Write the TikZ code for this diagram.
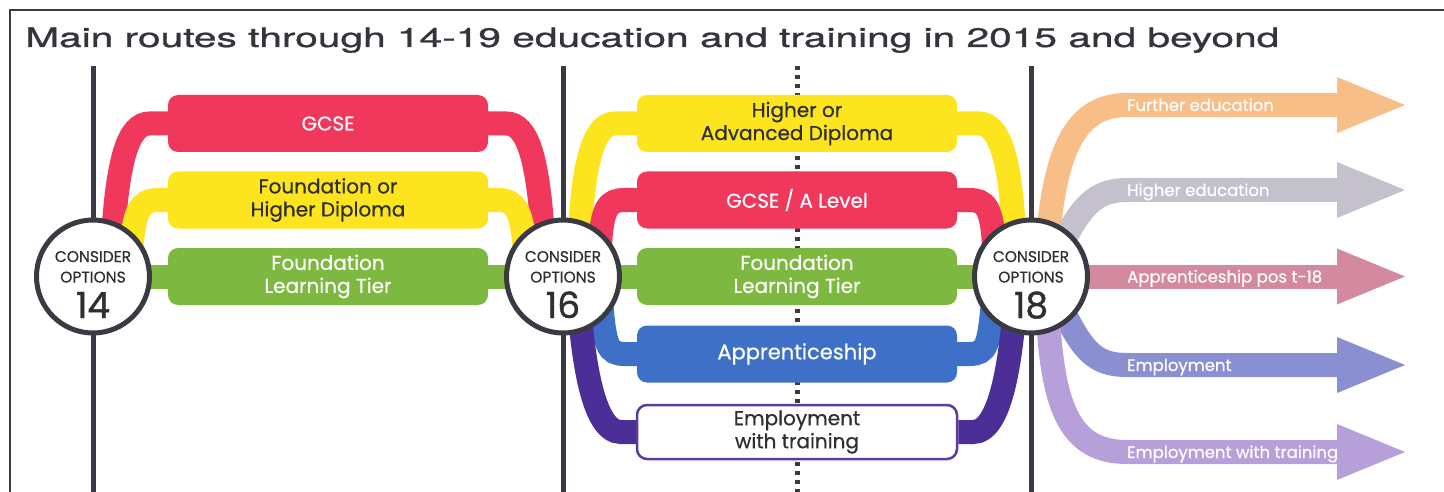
\documentclass[tikz,border=0pt]{standalone}
\usepackage{fontspec}
\usepackage{graphicx}
\setmainfont{Poppins}[FakeBold=0.5]
\newfontfamily\titlefont{TeX Gyre Heros}[FakeBold=0.8]
\newfontfamily\numfont{Poppins}[FakeBold=1.2]
\usetikzlibrary{calc}
\pgfdeclarelayer{lines}
\pgfdeclarelayer{bands}
\pgfsetlayers{lines,bands,main}

\definecolor{rRed}{RGB}{239,56,92}
\definecolor{rYellow}{RGB}{252,229,30}
\definecolor{rGreen}{RGB}{125,185,64}
\definecolor{rBlue}{RGB}{62,112,200}
\definecolor{rIndigo}{RGB}{75,47,151}
\definecolor{boxPurple}{RGB}{90,60,160}
\definecolor{aOrange}{RGB}{248,190,135}
\definecolor{aGrey}{RGB}{196,193,204}
\definecolor{aPink}{RGB}{212,138,158}
\definecolor{aBlue}{RGB}{138,143,210}
\definecolor{aPurple}{RGB}{183,159,218}
\definecolor{lineDark}{RGB}{58,59,66}
\definecolor{txtDark}{RGB}{46,46,51}
\definecolor{titleGray}{RGB}{52,52,58}

\begin{document}
\begin{tikzpicture}[x=1pt,y=-1pt,
  band/.style={line width=24pt},
  routebox/.style={rounded corners=10pt, minimum width=320pt, minimum height=57pt,
    inner sep=0pt, align=center, font=\fontsize{20}{23}\selectfont},
  agecircle/.style={circle, draw=lineDark, line width=5pt, fill=white,
    minimum size=113pt, inner sep=0pt},
  circtext/.style={anchor=base, inner sep=0pt, text=txtDark, font=\fontsize{15.5}{18}\selectfont},
  circnum/.style={anchor=base, inner sep=0pt, text=txtDark, font=\numfont\fontsize{36}{40}\selectfont},
  arrowtext/.style={anchor=base west, inner sep=0pt, text=white, font=\fontsize{16.5}{20}\selectfont},
  vline/.style={draw=lineDark, line width=5pt},
  dotline/.style={draw=lineDark, line width=5pt, dash pattern=on 4pt off 5pt}
]
\useasboundingbox (0,0) rectangle (1444,492);

% frame and title
\coordinate (frBL) at (10,492);
\coordinate (frTL) at (10,10);
\coordinate (frTR) at (1444,10);
\draw[lineDark, line width=2pt] (frBL) -- (frTL) -- (frTR);
\node[anchor=base west, inner sep=0pt, text=titleGray] (title) at (25,47)
  {\resizebox{1254pt}{\height}{\titlefont\fontsize{26.8}{30}\selectfont Main routes through 14-19 education and training in 2015 and beyond}};

% circles
\foreach \nm/\xx/\age in {c14/93/14, c16/563/16, c18/1031/18} {
  \node[agecircle] (\nm) at (\xx,276.5) {};
  \node[circtext] (\nm-a) at ($(\nm)+(0,-14.5)$) {CONSIDER};
  \node[circtext] (\nm-b) at ($(\nm)+(0,6)$) {OPTIONS};
  \node[circnum] (\nm-c) at ($(\nm)+(0,41.5)$) {\age};
}

% vertical lines
\coordinate (t14) at (93,66);   \coordinate (b14) at (93,492);
\coordinate (t16) at (563,66);  \coordinate (b16) at (563,492);
\coordinate (t18) at (1031,66); \coordinate (b18) at (1031,492);
\coordinate (tmid) at (797,66); \coordinate (bmid) at (797,492);
\begin{pgfonlayer}{lines}
  \draw[vline] (t14) -- (b14);
  \draw[vline] (t16) -- (b16);
  \draw[vline] (t18) -- (b18);
  \draw[dotline] (tmid) -- (bmid);
\end{pgfonlayer}

% boxes 14-16
\node[routebox, fill=rRed, text=white] (gcse) at (328,123.5) {GCSE};
\node[routebox, fill=rYellow, text=txtDark] (fhd) at (328,200) {Foundation or\\Higher Diploma};
\node[routebox, fill=rGreen, text=white] (flta) at (328,276.5) {Foundation\\Learning Tier};
% boxes 16-18
\node[routebox, fill=rYellow, text=txtDark] (had) at (797,123.5) {Higher or\\Advanced Diploma};
\node[routebox, fill=rRed, text=white] (gal) at (797,200) {GCSE / A Level};
\node[routebox, fill=rGreen, text=white] (fltb) at (797,276.5) {Foundation\\Learning Tier};
\node[routebox, fill=rBlue, text=white, font=\fontsize{21}{24}\selectfont] (app) at (797,354) {Apprenticeship};
\node[routebox, fill=white, draw=boxPurple, line width=2.5pt, text=txtDark, minimum height=54pt] (ewt) at (797,432) {Employment\\with training};

% arrow head bases
\coordinate (hFE) at (1337,105);
\coordinate (hHE) at (1337,190);
\coordinate (hAP) at (1337,276.5);
\coordinate (hEM) at (1337,365);
\coordinate (hEW) at (1337,452);

\begin{pgfonlayer}{bands}
  % 14 -> 16
  \draw[band, rRed] (gcse.west) -- ++(-18,0) .. controls +(-22,0) and ($(c14)+(25,-116)$) .. ($(c14)+(20,-40)$);
  \draw[band, rRed] (gcse.east) -- ++(18,0) .. controls +(22,0) and ($(c16)+(-25,-116)$) .. ($(c16)+(-20,-40)$);
  \draw[band, rYellow] (fhd.west) -- ++(-10,0) .. controls +(-18,0) and ($(c14)+(41,-65)$) .. ($(c14)+(38,-25)$);
  \draw[band, rYellow] (fhd.east) -- ++(10,0) .. controls +(18,0) and ($(c16)+(-41,-65)$) .. ($(c16)+(-38,-25)$);
  \draw[band, rGreen] (c14.center) -- (c16.center);
  % 16 -> 18
  \draw[band, rYellow] (had.west) -- ++(-22,0) .. controls +(-20,0) and ($(c16)+(20,-117)$) .. ($(c16)+(17,-40)$);
  \draw[band, rYellow] (had.east) -- ++(22,0) .. controls +(20,0) and ($(c18)+(-20,-117)$) .. ($(c18)+(-17,-40)$);
  \draw[band, rRed] (gal.west) -- ++(-12,0) .. controls +(-16,0) and ($(c16)+(39,-70)$) .. ($(c16)+(37,-30)$);
  \draw[band, rRed] (gal.east) -- ++(12,0) .. controls +(16,0) and ($(c18)+(-39,-70)$) .. ($(c18)+(-37,-30)$);
  \draw[band, rGreen] (c16.center) -- (c18.center);
  \draw[band, rBlue] (app.west) -- ++(-12,0) .. controls +(-18,0) and ($(c16)+(42,68)$) .. ($(c16)+(38,25)$);
  \draw[band, rBlue] (app.east) -- ++(12,0) .. controls +(18,0) and ($(c18)+(-42,68)$) .. ($(c18)+(-38,25)$);
  \draw[band, rIndigo] (ewt.west) -- ++(-15,0) .. controls +(-30,0) and ($(c16)+(20,70)$) .. ($(c16)+(17,40)$);
  \draw[band, rIndigo] (ewt.east) -- ++(15,0) .. controls +(30,0) and ($(c18)+(-20,70)$) .. ($(c18)+(-17,40)$);
  % after 18
  \draw[band, aOrange] ($(c18)+(17,-40)$) .. controls ($(c18)+(25,-126)$) and ($(hFE)+(-262,0)$) .. ($(hFE)+(-210,0)$) -- ($(hFE)+(1,0)$);
  \draw[band, aGrey] ($(c18)+(30,-30)$) .. controls ($(c18)+(50,-70)$) and ($(hHE)+(-242,0)$) .. ($(hHE)+(-210,0)$) -- ($(hHE)+(1,0)$);
  \draw[band, aPink] (c18.center) -- ($(hAP)+(1,0)$);
  \draw[band, aBlue] ($(c18)+(30,30)$) .. controls ($(c18)+(52,75)$) and ($(hEM)+(-242,0)$) .. ($(hEM)+(-210,0)$) -- ($(hEM)+(1,0)$);
  \draw[band, aPurple] ($(c18)+(17,40)$) .. controls ($(c18)+(22,135)$) and ($(hEW)+(-265,0)$) .. ($(hEW)+(-210,0)$) -- ($(hEW)+(1,0)$);
  \foreach \hh/\cc in {hFE/aOrange, hHE/aGrey, hAP/aPink, hEM/aBlue, hEW/aPurple} {
    \fill[\cc] ($(\hh)+(0,-28)$) -- ($(\hh)+(68,0)$) -- ($(\hh)+(0,28)$) -- cycle;
  }
\end{pgfonlayer}

% arrow labels
\node[arrowtext] (tFE) at ($(hFE)+(-210,6)$) {Further education};
\node[arrowtext] (tHE) at ($(hHE)+(-210,6)$) {Higher education};
\node[arrowtext] (tAP) at ($(hAP)+(-210,6)$) {Apprenticeship pos t-18};
\node[arrowtext] (tEM) at ($(hEM)+(-210,6)$) {Employment};
\node[arrowtext] (tEW) at ($(hEW)+(-210,6)$) {Employment with training};
\end{tikzpicture}
\end{document}
